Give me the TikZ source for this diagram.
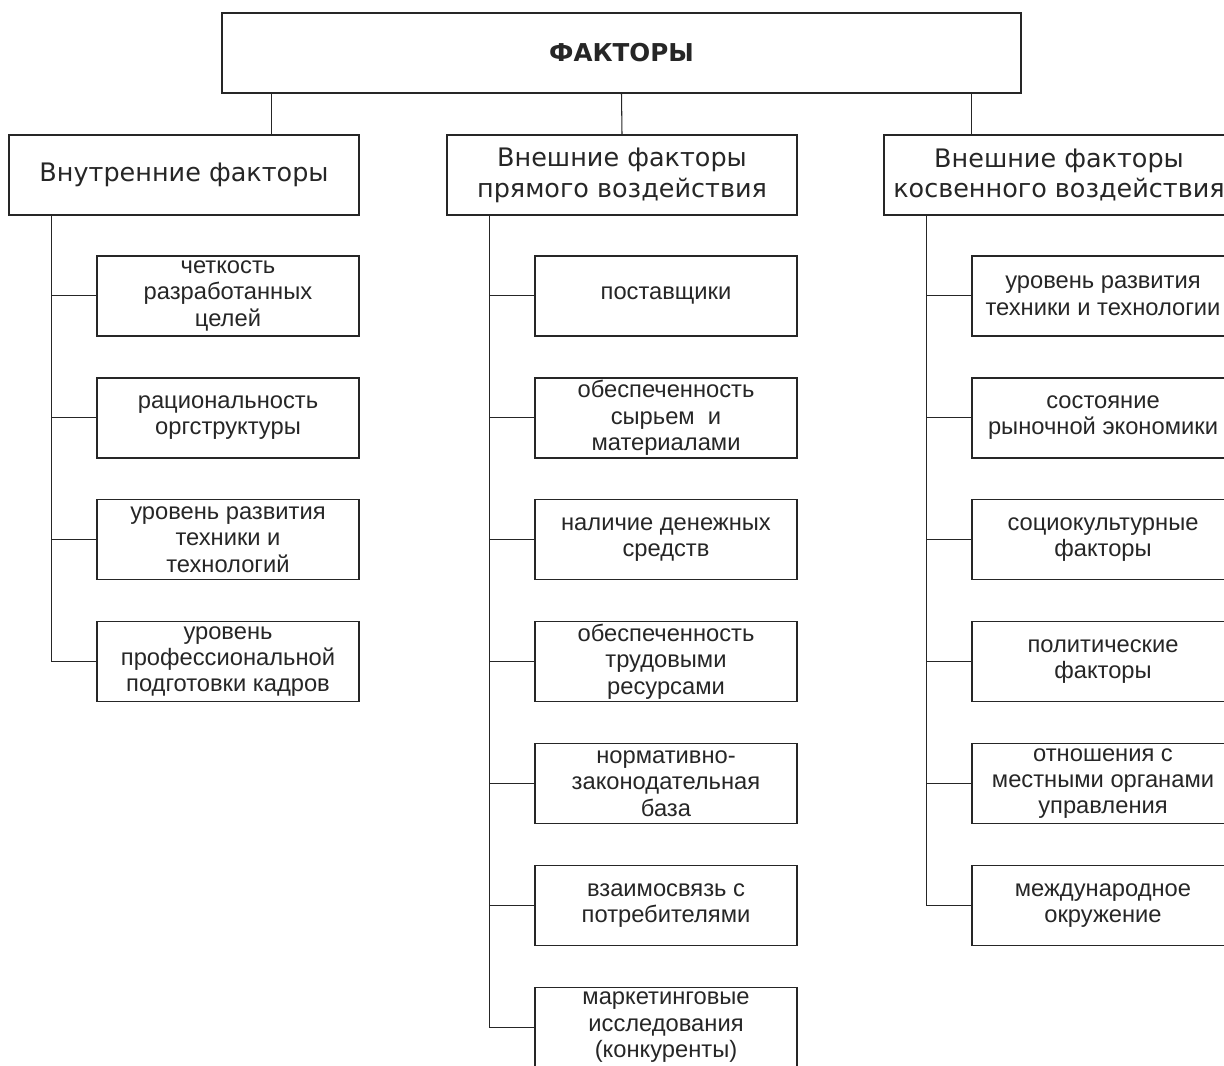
\documentclass[tikz,border=0pt]{standalone}
\usepackage{fontspec}
\setmainfont{Liberation Sans}
\newfontfamily\hdrfont{DejaVu Sans}
\usetikzlibrary{positioning}

\begin{document}
\begin{tikzpicture}[node distance=0.81cm, color=black!85,
        rootbox/.style = {draw, line width=0.8pt, minimum width=15.98cm, minimum height=1.6cm, font=\hdrfont\bfseries\fontsize{14}{17}\selectfont},
        grpbox/.style = {draw, line width=0.8pt, minimum width=7cm, minimum height=1.6cm, align=center, font=\hdrfont\fontsize{14.5}{17.5}\selectfont},
        itembox/.style = {draw, line width=0.8pt, minimum width=5.24cm, minimum height=1.6cm, inner ysep=0pt, align=center, font=\fontsize{13.5}{15}\selectfont},
        link/.style = {line width=0.6pt}]
        \path[use as bounding box, clip] (0,0) rectangle (24.48,-21.3);
        \node[rootbox] (fak) at (12.43,-1.06) {ФАКТОРЫ};
        \node[grpbox] (vn) at (3.68,-3.5) {Внутренние факторы};
        \node[grpbox] (pr) at (12.44,-3.5) {Внешние факторы\\прямого воздействия};
        \node[grpbox] (ks) at (21.18,-3.5) {Внешние факторы\\косвенного воздействия};
        %% Internal
        \node[itembox] (a1) [below left=0.79cm and 0cm of vn.south east] {четкость\\разработанных\\целей};
        \node[itembox] (a2) [below=of a1] {рациональность\\оргструктуры};
        \node[itembox] (a3) [below=of a2] {уровень развития\\техники и\\технологий};
        \node[itembox] (a4) [below=of a3] {уровень\\профессиональной\\подготовки кадров};
        %% Direct
        \node[itembox] (b1) [below left=0.79cm and 0cm of pr.south east] {поставщики};
        \node[itembox] (b2) [below=of b1] {обеспеченность\\сырьем \ и\\материалами};
        \node[itembox] (b3) [below=of b2] {наличие денежных\\средств};
        \node[itembox] (b4) [below=of b3] {обеспеченность\\трудовыми\\ресурсами};
        \node[itembox] (b5) [below=of b4] {нормативно-\\законодательная\\база};
        \node[itembox] (b6) [below=of b5] {взаимосвязь с\\потребителями};
        \node[itembox] (b7) [below=of b6] {маркетинговые\\исследования\\(конкуренты)};
        %% Indirect
        \node[itembox] (c1) [below left=0.79cm and 0cm of ks.south east] {уровень развития\\техники и технологии};
        \node[itembox] (c2) [below=of c1] {состояние\\рыночной экономики};
        \node[itembox] (c3) [below=of c2] {социокультурные\\факторы};
        \node[itembox] (c4) [below=of c3] {политические\\факторы};
        \node[itembox] (c5) [below=of c4] {отношения с\\местными органами\\управления};
        \node[itembox] (c6) [below=of c5] {международное\\окружение};
        %% Lines
        \coordinate (kvn) at ([xshift=1cm]fak.south west);
        \coordinate (kks) at ([xshift=-1cm]fak.south east);
        \draw[link] (kvn) -- (kvn |- vn.north);
        \draw[link] (fak.south) -- (pr.north);
        \draw[link] (kks) -- (kks |- ks.north);
        \coordinate (tvn) at ([xshift=0.86cm]vn.south west);
        \coordinate (tpr) at ([xshift=0.86cm]pr.south west);
        \coordinate (tks) at ([xshift=0.87cm]ks.south west);
        \foreach \i in {1,...,4} \draw[link] (tvn) |- (a\i.west);
        \foreach \i in {1,...,7} \draw[link] (tpr) |- (b\i.west);
        \foreach \i in {1,...,6} \draw[link] (tks) |- (c\i.west);
    \end{tikzpicture}
\end{document}
